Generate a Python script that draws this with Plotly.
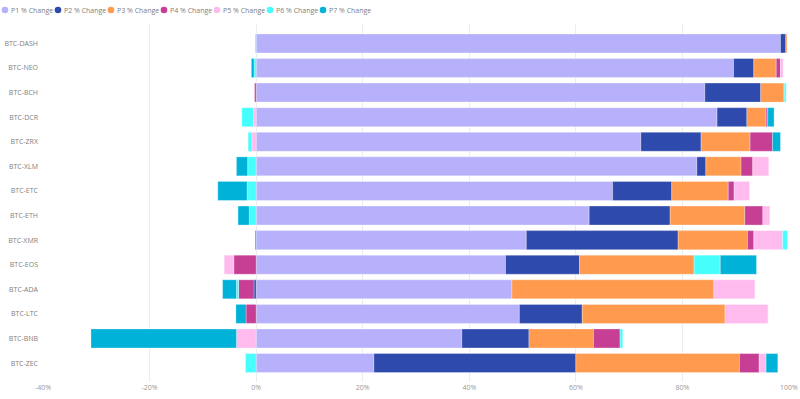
import plotly.graph_objects as go

categories = ["BTC-DASH", "BTC-NEO", "BTC-BCH", "BTC-DCR", "BTC-ZRX", "BTC-XLM", "BTC-ETC",
              "BTC-ETH", "BTC-XMR", "BTC-EOS", "BTC-ADA", "BTC-LTC", "BTC-BNB", "BTC-ZEC"]
series_names = ["P1 % Change", "P2 % Change", "P3 % Change", "P4 % Change",
                "P5 % Change", "P6 % Change", "P7 % Change"]
p1 = [98.4, 89.6, 84.2, 86.5, 72.2, 82.7, 66.9, 62.5, 50.7, 46.8, 48.0, 49.4, 38.6, 22.1]
p2 = [1.0, 3.8, 10.5, 5.6, 11.3, 1.7, 11.1, 15.2, 28.5, 13.9, -0.4, 11.8, 12.6, 37.9]
p3 = [0.3, 4.2, 4.4, 3.6, 9.2, 6.6, 10.6, 14.0, 13.0, 21.5, 37.9, 26.8, 12.1, 30.7]
p4 = [0.0, 0.8, -0.3, 0.3, 4.2, 2.2, 1.1, 3.4, 1.2, -4.2, -2.9, -1.9, 5.0, 3.7]
p5 = [0.0, 0.5, 0.0, -0.5, -0.8, 3.0, 2.9, 1.3, 5.4, -1.8, 7.7, 8.1, -3.7, 1.3]
p6 = [-0.2, -0.4, 0.4, -2.2, -0.7, -1.6, -1.7, -1.3, 0.9, 4.9, -0.4, 0.0, 0.5, -2.0]
p7 = [0.0, -0.5, 0.0, 1.2, 1.5, -2.1, -5.5, -2.1, -0.2, 6.8, -2.6, -1.9, -27.3, 2.2]
x_ticks = [-40, -20, 0, 20, 40, 60, 80, 100]
x_tick_labels = ["-40%", "-20%", "0%", "20%", "40%", "60%", "80%", "100%"]

series = [p1, p2, p3, p4, p5, p6, p7]
colors = ["#b7b1fc", "#2f4aad", "#ff9a4f", "#c63f94", "#ffbbee", "#46fffc", "#00b2d8"]

fig = go.Figure()
for name, vals, col in zip(series_names, series, colors):
    fig.add_trace(go.Bar(
        y=categories, x=vals, name=name, orientation="h",
        marker=dict(color=col, line=dict(width=0.6, color="rgba(255,255,255,0.5)")),
        showlegend=False,
    ))

# plot area geometry in pixels
L, R, T, B = 43, 789, 24, 382
W, H = R - L, B - T

def px_x(px):
    return (px - L) / W

def px_y(py):
    return (B - py) / H

shapes = []
annotations = []
for i, (name, col) in enumerate(zip(series_names, colors)):
    cx = 5 + 53.0 * i
    shapes.append(dict(type="circle", xref="paper", yref="paper",
                       xsizemode="pixel", ysizemode="pixel",
                       xanchor=px_x(cx), yanchor=px_y(10),
                       x0=-3.3, x1=3.3, y0=-3.3, y1=3.3,
                       fillcolor=col, line=dict(width=0)))
    annotations.append(dict(text=name, xref="paper", yref="paper",
                            x=px_x(cx + 4), y=px_y(10.5), xanchor="left", yanchor="middle",
                            showarrow=False, font=dict(size=7, color="#808080",
                                                       family="Open Sans, sans-serif")))

fig.update_layout(
    barmode="relative",
    bargap=0.227,
    width=800, height=399,
    margin=dict(l=L, r=800 - R, t=T, b=399 - B, autoexpand=False),
    plot_bgcolor="white", paper_bgcolor="white",
    font=dict(family="Open Sans, sans-serif", size=8, color="#808080"),
    shapes=shapes, annotations=annotations,
    xaxis=dict(range=[-40, 100], tickmode="array", tickvals=x_ticks, ticktext=x_tick_labels,
               showgrid=True, gridcolor="#ececec", gridwidth=1, zeroline=False,
               tickfont=dict(size=7, color="#999999"), automargin=False, fixedrange=True),
    yaxis=dict(categoryorder="array", categoryarray=categories,
               range=[13.77, -0.79], showgrid=False, zeroline=False,
               tickfont=dict(size=7, color="#808080"), ticklabelstandoff=4,
               automargin=False, fixedrange=True),
)

fig.write_html("out.html", config={"displayModeBar": False},
               post_script="document.body.style.margin='0';")
